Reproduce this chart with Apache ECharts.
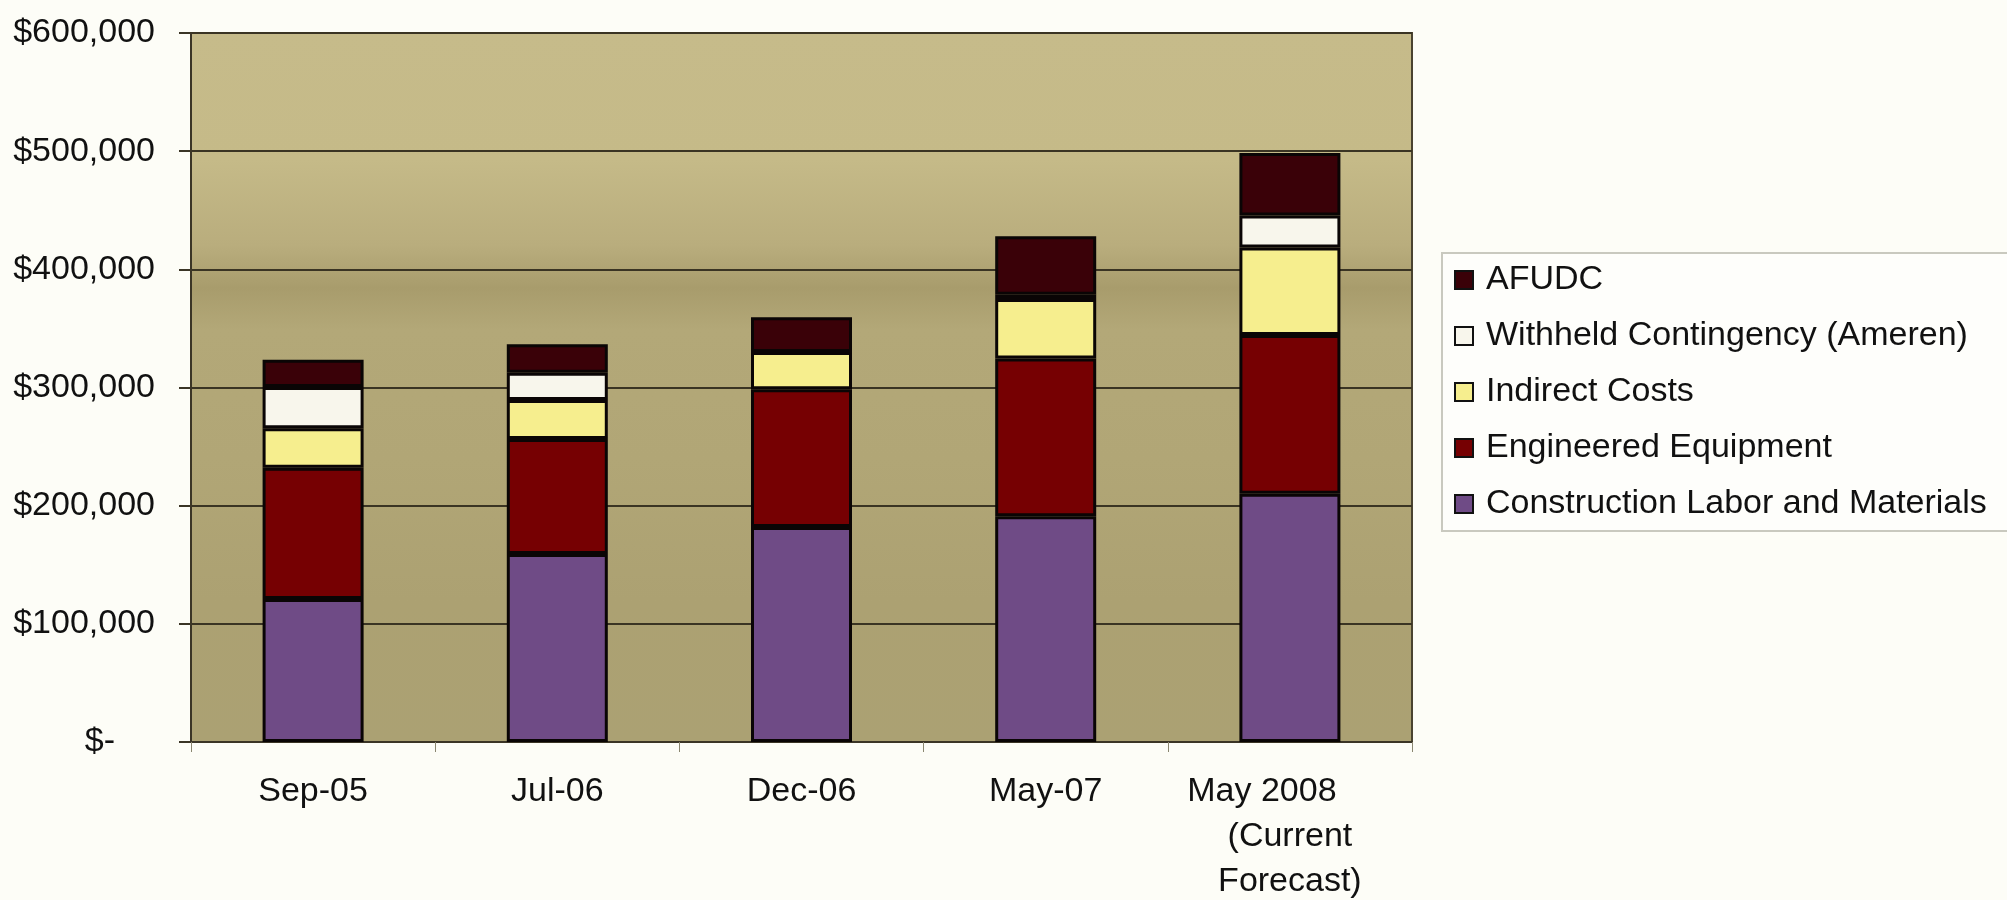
<!DOCTYPE html>
<html>
<head>
<meta charset="utf-8">
<script src="https://cdn.jsdelivr.net/npm/echarts@6/dist/echarts.min.js"></script>
<style>
  html, body { margin: 0; padding: 0; background: #fdfdf7; }
  #chart { width: 2007px; height: 900px; }
</style>
</head>
<body>
<div id="chart"></div>
<script>
// Project cost estimate history, stacked by cost component (US$)
const categories = ['Sep-05', 'Jul-06', 'Dec-06', 'May-07', 'May 2008\n(Current\nForecast)'];

const laborAndMaterials = [121000, 159000, 182000, 191000, 210000];
const engineeredEquipment = [111000, 97500, 116500, 133500, 134500];
const indirectCosts = [33500, 33000, 31500, 50500, 74000];
const withheldContingency = [35000, 23000, 0, 3500, 27000];
const afudc = [23000, 24000, 29500, 49500, 53000];

const seriesNames = [
  'Construction Labor and Materials',
  'Engineered Equipment',
  'Indirect Costs',
  'Withheld Contingency (Ameren)',
  'AFUDC'
];
const seriesValues = [laborAndMaterials, engineeredEquipment, indirectCosts, withheldContingency, afudc];
const seriesColors = ['#6f4b86', '#760002', '#f6ee8e', '#f8f6ec', '#3a0108'];

const yTicks = { min: 0, max: 600000, interval: 100000 };

const FONT = '"Liberation Sans", Arial, sans-serif';
const TEXT = '#111111';

function money(v) {
  if (v === 0) return '{zero|$-}';
  return '$' + v.toLocaleString('en-US');
}

const chart = echarts.init(document.getElementById('chart'));

chart.setOption({
  backgroundColor: '#fdfdf7',
  animation: false,
  grid: {
    left: 191,
    top: 33,
    right: 595,
    bottom: 158,
    outerBoundsMode: 'none',
    containLabel: false,
    show: true,
    borderColor: '#4a4330',
    borderWidth: 2,
    backgroundColor: {
      type: 'linear', x: 0, y: 0, x2: 0, y2: 1,
      colorStops: [
        { offset: 0.00, color: '#c6bb8a' },
        { offset: 0.18, color: '#c5ba88' },
        { offset: 0.30, color: '#b9ad7d' },
        { offset: 0.36, color: '#a89c6c' },
        { offset: 0.42, color: '#b3a878' },
        { offset: 0.60, color: '#b1a676' },
        { offset: 0.80, color: '#aca172' },
        { offset: 1.00, color: '#aba173' }
      ]
    }
  },
  legend: {
    orient: 'vertical',
    left: 1442,
    top: 253,
    data: seriesNames.slice().reverse(),
    icon: 'rect',
    itemWidth: 18,
    itemHeight: 18,
    itemGap: 16,
    padding: [7, 30, 7, 12],
    backgroundColor: '#fefefb',
    borderColor: '#c9c9bf',
    borderWidth: 2,
    itemStyle: { borderColor: '#111', borderWidth: 2 },
    textStyle: {
      fontFamily: FONT,
      fontSize: 34,
      color: TEXT,
      lineHeight: 40,
      padding: [0, 0, 0, 8]
    },
    selectedMode: false
  },
  xAxis: {
    type: 'category',
    data: categories,
    axisLine: { show: true, lineStyle: { color: '#3b3526', width: 2 } },
    axisTick: { show: true, length: 10, lineStyle: { color: '#8a8670', width: 1 } },
    axisLabel: {
      interval: 0,
      hideOverlap: false,
      margin: 27,
      fontFamily: FONT,
      fontSize: 34,
      color: TEXT,
      lineHeight: 45,
      formatter: function (value) {
        const lines = value.split('\n');
        if (lines.length === 1) return value;
        return '{lead|' + lines[0] + '}\n' + lines.slice(1).join('\n');
      },
      rich: {
        lead: {
          fontFamily: FONT,
          fontSize: 34,
          color: TEXT,
          lineHeight: 45,
          padding: [0, 56, 0, 0]
        }
      }
    }
  },
  yAxis: {
    type: 'value',
    min: yTicks.min,
    max: yTicks.max,
    interval: yTicks.interval,
    axisLine: { show: true, lineStyle: { color: '#3b3526', width: 2 } },
    axisTick: { show: true, length: 12, lineStyle: { color: '#3b3526', width: 2 } },
    splitLine: { show: true, lineStyle: { color: '#3a3423', width: 2 } },
    axisLabel: {
      margin: 36,
      fontFamily: FONT,
      fontSize: 34,
      color: TEXT,
      formatter: money,
      rich: {
        zero: {
          fontFamily: FONT,
          fontSize: 34,
          color: TEXT,
          padding: [0, 40, 0, 0]
        }
      }
    }
  },
  series: seriesNames.map(function (name, i) {
    return {
      name: name,
      type: 'bar',
      stack: 'cost',
      data: seriesValues[i],
      barWidth: 101,
      itemStyle: {
        color: seriesColors[i],
        borderColor: '#0a0505',
        borderWidth: 3
      },
      emphasis: { disabled: true }
    };
  })
});
</script>
</body>
</html>
